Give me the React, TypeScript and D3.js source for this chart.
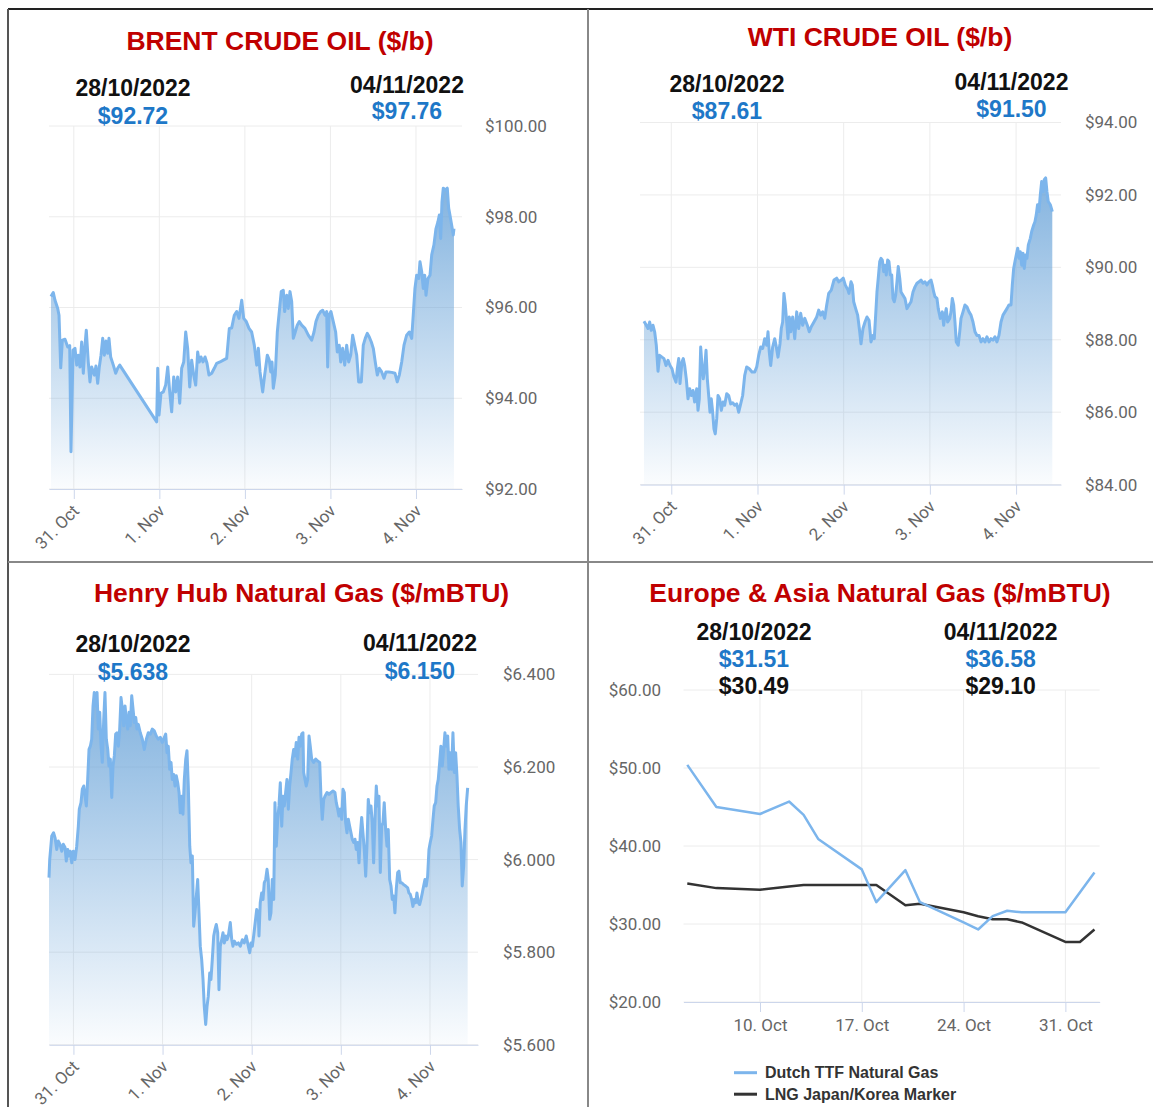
import React, { useEffect, useRef } from 'react';
import * as d3 from 'd3';

type Point = [number, number];

// intraday series: [days from 31 Oct 2022 00:00 UTC, price]
const brentSeries: Point[] = [
  [-0.267, 96.24], [-0.240, 96.33], [-0.220, 96.16], [-0.188, 95.98], [-0.173, 95.83], [-0.153, 94.67], [-0.134, 95.28],
  [-0.103, 95.30], [-0.071, 95.13], [-0.048, 95.16], [-0.033, 92.82], [-0.009, 95.06], [0.014, 95.10], [0.034, 94.73],
  [0.053, 94.95], [0.072, 94.69], [0.092, 95.24], [0.111, 94.55], [0.131, 95.17], [0.146, 95.50], [0.169, 94.80],
  [0.189, 94.36], [0.209, 94.69], [0.240, 94.51], [0.259, 94.71], [0.279, 94.33], [0.298, 94.69], [0.318, 94.95],
  [0.338, 95.32], [0.357, 94.95], [0.376, 95.26], [0.396, 94.99], [0.411, 95.32], [0.431, 94.91], [0.462, 94.73],
  [0.490, 94.55], [0.513, 94.66], [0.537, 94.73], [0.969, 93.48], [0.981, 94.66], [0.996, 93.63], [1.019, 94.11],
  [1.046, 94.14], [1.074, 94.29], [1.098, 94.69], [1.121, 94.14], [1.144, 93.70], [1.168, 94.47], [1.191, 94.14],
  [1.214, 94.47], [1.238, 93.89], [1.261, 94.66], [1.285, 94.80], [1.308, 95.46], [1.331, 95.10], [1.355, 94.25],
  [1.378, 94.84], [1.402, 94.51], [1.425, 94.29], [1.448, 95.02], [1.467, 94.80], [1.487, 94.91], [1.510, 94.80],
  [1.534, 94.91], [1.557, 94.77], [1.580, 94.51], [1.612, 94.55], [1.642, 94.66], [1.670, 94.77], [1.709, 94.80],
  [1.748, 94.84], [1.787, 94.88], [1.818, 95.54], [1.846, 95.55], [1.876, 95.83], [1.904, 95.91], [1.931, 95.76],
  [1.963, 96.16], [1.986, 95.76], [2.016, 95.69], [2.048, 95.54], [2.079, 95.46], [2.110, 95.17], [2.138, 94.73],
  [2.157, 95.10], [2.177, 94.58], [2.208, 94.14], [2.231, 94.51], [2.262, 94.95], [2.285, 94.84], [2.302, 94.58],
  [2.317, 94.80], [2.332, 94.22], [2.355, 94.51], [2.379, 95.46], [2.402, 95.91], [2.425, 96.35], [2.449, 96.38],
  [2.465, 95.91], [2.489, 96.27], [2.507, 95.98], [2.527, 96.35], [2.547, 96.13], [2.566, 95.32], [2.589, 95.46],
  [2.612, 95.61], [2.636, 95.69], [2.664, 95.61], [2.702, 95.54], [2.741, 95.39], [2.781, 95.28], [2.808, 95.46],
  [2.831, 95.69], [2.858, 95.83], [2.886, 95.91], [2.909, 95.94], [2.936, 95.83], [2.956, 95.91], [2.968, 94.69],
  [2.983, 95.83], [3.006, 95.91], [3.033, 95.69], [3.061, 95.46], [3.080, 95.02], [3.103, 95.17], [3.120, 94.80],
  [3.143, 95.10], [3.167, 94.73], [3.190, 95.17], [3.213, 94.80], [3.237, 94.95], [3.260, 95.39], [3.283, 95.17],
  [3.307, 94.95], [3.330, 94.36], [3.361, 94.36], [3.384, 95.17], [3.407, 95.32], [3.431, 95.43], [3.454, 95.35],
  [3.478, 95.24], [3.501, 95.10], [3.524, 94.80], [3.548, 94.51], [3.571, 94.66], [3.599, 94.58], [3.626, 94.44],
  [3.649, 94.58], [3.681, 94.58], [3.716, 94.57], [3.755, 94.55], [3.781, 94.36], [3.805, 94.51], [3.833, 94.80],
  [3.860, 95.17], [3.891, 95.39], [3.922, 95.46], [3.950, 95.32], [3.968, 95.83], [3.988, 96.42], [4.008, 96.71],
  [4.032, 96.64], [4.047, 97.01], [4.067, 96.79], [4.085, 96.42], [4.102, 96.71], [4.117, 96.27], [4.140, 96.64],
  [4.164, 96.71], [4.184, 97.16], [4.210, 97.38], [4.234, 97.74], [4.257, 97.89], [4.273, 98.04], [4.289, 97.52],
  [4.304, 98.33], [4.319, 98.63], [4.343, 98.59], [4.366, 98.63], [4.382, 98.19], [4.397, 98.04], [4.417, 97.82],
  [4.436, 97.60], [4.444, 97.74],
];

const wtiSeries: Point[] = [
  [-0.317, 88.51], [-0.290, 88.40], [-0.270, 88.31], [-0.251, 88.49], [-0.232, 88.26], [-0.212, 88.40], [-0.193, 88.22],
  [-0.174, 87.85], [-0.154, 87.13], [-0.135, 87.57], [-0.108, 87.52], [-0.085, 87.48], [-0.061, 87.29], [-0.038, 87.43],
  [-0.015, 87.29], [0.008, 87.20], [0.031, 86.97], [0.055, 86.83], [0.070, 87.20], [0.086, 87.48], [0.101, 86.79],
  [0.124, 87.39], [0.139, 87.48], [0.155, 87.29], [0.174, 86.92], [0.194, 86.37], [0.213, 86.65], [0.232, 86.46],
  [0.252, 86.60], [0.271, 86.28], [0.295, 86.65], [0.310, 86.05], [0.325, 86.37], [0.341, 87.80], [0.356, 87.29],
  [0.371, 86.92], [0.387, 87.20], [0.403, 87.71], [0.418, 86.92], [0.434, 86.46], [0.449, 86.00], [0.464, 86.37],
  [0.480, 86.00], [0.495, 85.54], [0.510, 85.40], [0.527, 85.82], [0.542, 86.46], [0.561, 86.37], [0.580, 86.05],
  [0.600, 86.28], [0.619, 86.19], [0.643, 86.51], [0.666, 86.46], [0.689, 86.23], [0.712, 86.26], [0.736, 86.19],
  [0.759, 86.23], [0.782, 86.00], [0.805, 86.23], [0.828, 86.46], [0.852, 87.02], [0.875, 87.25], [0.905, 87.20],
  [0.936, 87.11], [0.968, 87.11], [0.991, 87.25], [1.014, 87.57], [1.037, 87.80], [1.060, 87.76], [1.084, 88.03],
  [1.107, 87.85], [1.122, 88.22], [1.137, 87.66], [1.153, 87.29], [1.176, 87.80], [1.200, 88.03], [1.215, 87.85],
  [1.238, 87.52], [1.261, 87.89], [1.276, 88.31], [1.292, 88.49], [1.307, 89.28], [1.323, 88.96], [1.339, 88.49],
  [1.354, 88.03], [1.369, 88.63], [1.385, 88.22], [1.408, 88.63], [1.432, 88.03], [1.455, 88.77], [1.478, 88.31],
  [1.501, 88.73], [1.524, 88.40], [1.548, 88.59], [1.578, 88.40], [1.601, 88.22], [1.624, 88.36], [1.655, 88.49],
  [1.687, 88.63], [1.710, 88.82], [1.733, 88.68], [1.756, 88.77], [1.780, 88.59], [1.803, 88.96], [1.826, 89.28],
  [1.856, 89.37], [1.887, 89.65], [1.919, 89.70], [1.942, 89.60], [1.972, 89.65], [1.995, 89.70], [2.019, 89.51],
  [2.050, 89.37], [2.061, 89.28], [2.085, 89.60], [2.100, 89.51], [2.116, 89.05], [2.139, 88.86], [2.162, 88.68],
  [2.186, 88.22], [2.201, 87.89], [2.224, 88.31], [2.247, 88.49], [2.270, 88.63], [2.294, 88.54], [2.317, 87.94],
  [2.340, 88.12], [2.355, 88.03], [2.371, 88.68], [2.386, 89.32], [2.401, 89.70], [2.418, 90.16], [2.433, 90.25],
  [2.448, 90.20], [2.464, 89.88], [2.479, 90.06], [2.494, 89.79], [2.510, 90.20], [2.525, 90.16], [2.541, 89.79],
  [2.557, 89.79], [2.572, 89.14], [2.587, 89.05], [2.603, 89.23], [2.618, 89.60], [2.633, 90.02], [2.650, 89.70],
  [2.665, 89.32], [2.688, 89.23], [2.711, 89.14], [2.734, 88.86], [2.758, 88.96], [2.781, 89.05], [2.804, 89.32],
  [2.827, 89.46], [2.850, 89.56], [2.874, 89.60], [2.897, 89.65], [2.920, 89.56], [2.943, 89.60], [2.966, 89.51],
  [2.989, 89.60], [3.013, 89.65], [3.028, 89.51], [3.044, 89.32], [3.059, 89.19], [3.082, 89.14], [3.097, 88.86],
  [3.121, 88.59], [3.144, 88.77], [3.160, 88.40], [3.175, 88.68], [3.190, 88.86], [3.206, 88.49], [3.230, 88.59],
  [3.245, 88.77], [3.260, 89.14], [3.276, 88.96], [3.291, 88.49], [3.306, 87.94], [3.329, 87.85], [3.346, 88.22],
  [3.361, 88.59], [3.384, 88.77], [3.407, 88.96], [3.430, 88.91], [3.454, 88.77], [3.477, 88.68], [3.500, 88.49],
  [3.523, 88.22], [3.546, 88.12], [3.570, 88.12], [3.593, 87.94], [3.616, 88.03], [3.639, 87.94], [3.662, 88.08],
  [3.686, 87.94], [3.709, 88.03], [3.732, 87.99], [3.755, 88.08], [3.778, 87.94], [3.801, 88.12], [3.825, 88.49],
  [3.848, 88.68], [3.871, 88.77], [3.894, 88.86], [3.917, 88.96], [3.941, 88.96], [3.956, 89.51], [3.972, 89.97],
  [3.987, 90.16], [4.002, 90.34], [4.019, 90.53], [4.034, 90.25], [4.049, 90.43], [4.065, 90.06], [4.080, 90.39],
  [4.095, 89.97], [4.111, 90.34], [4.126, 90.25], [4.142, 90.62], [4.165, 90.80], [4.181, 90.99], [4.204, 91.17],
  [4.219, 91.26], [4.234, 91.45], [4.249, 91.73], [4.265, 91.54], [4.281, 92.00], [4.297, 92.37], [4.312, 92.09],
  [4.327, 92.42], [4.343, 92.47], [4.358, 92.09], [4.373, 91.82], [4.397, 91.73], [4.420, 91.54],
];

const henryHubSeries: Point[] = [
  [-0.274, 5.961], [-0.266, 6.000], [-0.243, 6.051], [-0.223, 6.058], [-0.206, 6.047], [-0.187, 6.022], [-0.169, 6.040],
  [-0.150, 6.033], [-0.131, 6.018], [-0.113, 6.033], [-0.094, 6.026], [-0.080, 5.997], [-0.064, 6.022], [-0.049, 6.008],
  [-0.035, 6.018], [-0.019, 5.993], [-0.001, 6.018], [0.018, 6.000], [0.037, 6.029], [0.055, 6.072], [0.066, 6.109],
  [0.085, 6.123], [0.100, 6.152], [0.116, 6.159], [0.130, 6.137], [0.145, 6.116], [0.160, 6.173], [0.175, 6.238],
  [0.190, 6.245], [0.205, 6.260], [0.220, 6.332], [0.234, 6.361], [0.250, 6.332], [0.265, 6.361], [0.279, 6.282],
  [0.295, 6.318], [0.310, 6.245], [0.324, 6.210], [0.340, 6.303], [0.354, 6.361], [0.369, 6.260], [0.385, 6.238],
  [0.399, 6.202], [0.414, 6.217], [0.430, 6.134], [0.444, 6.202], [0.459, 6.224], [0.474, 6.271], [0.489, 6.274],
  [0.504, 6.245], [0.519, 6.282], [0.534, 6.350], [0.549, 6.325], [0.564, 6.289], [0.579, 6.332], [0.593, 6.303],
  [0.609, 6.282], [0.624, 6.318], [0.638, 6.289], [0.654, 6.354], [0.669, 6.325], [0.683, 6.296], [0.699, 6.307],
  [0.713, 6.282], [0.728, 6.292], [0.750, 6.274], [0.773, 6.260], [0.795, 6.238], [0.818, 6.260], [0.840, 6.274],
  [0.863, 6.271], [0.885, 6.282], [0.907, 6.278], [0.930, 6.267], [0.952, 6.260], [0.975, 6.264], [0.997, 6.253],
  [1.020, 6.264], [1.035, 6.271], [1.050, 6.231], [1.064, 6.245], [1.080, 6.195], [1.095, 6.210], [1.109, 6.173],
  [1.125, 6.184], [1.140, 6.159], [1.154, 6.181], [1.170, 6.166], [1.185, 6.145], [1.199, 6.101], [1.215, 6.137],
  [1.229, 6.098], [1.244, 6.173], [1.260, 6.217], [1.274, 6.235], [1.289, 6.159], [1.305, 6.029], [1.319, 5.993],
  [1.334, 6.008], [1.349, 5.856], [1.364, 5.885], [1.379, 5.921], [1.394, 5.957], [1.409, 5.885], [1.423, 5.813],
  [1.439, 5.784], [1.454, 5.741], [1.468, 5.683], [1.484, 5.644], [1.499, 5.683], [1.513, 5.705], [1.529, 5.755],
  [1.543, 5.741], [1.558, 5.784], [1.574, 5.835], [1.588, 5.849], [1.603, 5.860], [1.619, 5.842], [1.633, 5.719],
  [1.648, 5.813], [1.663, 5.827], [1.678, 5.842], [1.693, 5.820], [1.708, 5.835], [1.723, 5.827], [1.738, 5.835],
  [1.760, 5.864], [1.776, 5.827], [1.790, 5.813], [1.805, 5.824], [1.827, 5.817], [1.850, 5.820], [1.872, 5.813],
  [1.895, 5.827], [1.917, 5.820], [1.939, 5.835], [1.962, 5.813], [1.978, 5.799], [1.992, 5.820], [2.007, 5.813],
  [2.022, 5.835], [2.056, 5.892], [2.074, 5.885], [2.082, 5.835], [2.096, 5.907], [2.112, 5.928], [2.127, 5.914],
  [2.141, 5.950], [2.157, 5.957], [2.172, 5.979], [2.186, 5.957], [2.202, 5.871], [2.216, 5.885], [2.231, 5.957],
  [2.247, 5.914], [2.261, 6.123], [2.276, 6.029], [2.292, 6.087], [2.306, 6.116], [2.321, 6.166], [2.337, 6.072],
  [2.351, 6.137], [2.366, 6.116], [2.381, 6.145], [2.396, 6.173], [2.411, 6.109], [2.426, 6.159], [2.441, 6.188],
  [2.455, 6.217], [2.471, 6.238], [2.486, 6.224], [2.500, 6.253], [2.516, 6.217], [2.531, 6.264], [2.545, 6.245],
  [2.561, 6.271], [2.575, 6.274], [2.583, 6.188], [2.598, 6.173], [2.612, 6.159], [2.628, 6.173], [2.643, 6.267],
  [2.657, 6.245], [2.673, 6.217], [2.695, 6.210], [2.718, 6.217], [2.740, 6.213], [2.763, 6.210], [2.777, 6.137],
  [2.792, 6.087], [2.808, 6.130], [2.822, 6.137], [2.845, 6.145], [2.867, 6.141], [2.890, 6.145], [2.912, 6.148],
  [2.934, 6.145], [2.949, 6.123], [2.965, 6.109], [2.979, 6.094], [2.994, 6.109], [3.010, 6.087], [3.024, 6.152],
  [3.039, 6.145], [3.054, 6.080], [3.069, 6.058], [3.084, 6.087], [3.099, 6.072], [3.114, 6.058], [3.128, 6.044],
  [3.144, 6.037], [3.159, 6.044], [3.173, 6.022], [3.189, 6.037], [3.204, 5.993], [3.218, 6.051], [3.234, 6.091],
  [3.248, 6.058], [3.263, 6.022], [3.279, 5.964], [3.293, 6.029], [3.308, 6.130], [3.324, 6.101], [3.338, 6.116],
  [3.353, 6.080], [3.368, 5.993], [3.383, 6.087], [3.398, 6.159], [3.413, 6.116], [3.428, 6.137], [3.443, 5.972],
  [3.458, 6.072], [3.473, 6.080], [3.487, 6.123], [3.503, 6.065], [3.518, 6.029], [3.532, 6.065], [3.548, 5.957],
  [3.563, 5.943], [3.577, 5.914], [3.593, 5.921], [3.607, 5.885], [3.622, 5.936], [3.638, 5.972], [3.652, 5.975],
  [3.667, 5.950], [3.683, 5.950], [3.705, 5.946], [3.727, 5.943], [3.750, 5.939], [3.764, 5.928], [3.779, 5.925],
  [3.795, 5.914], [3.809, 5.899], [3.824, 5.914], [3.840, 5.907], [3.854, 5.928], [3.869, 5.907], [3.884, 5.903],
  [3.899, 5.914], [3.914, 5.928], [3.929, 5.943], [3.944, 5.957], [3.958, 5.943], [3.974, 5.964], [3.989, 6.022],
  [4.003, 6.037], [4.019, 6.051], [4.034, 6.087], [4.048, 6.116], [4.064, 6.123], [4.079, 6.159], [4.093, 6.173],
  [4.109, 6.210], [4.123, 6.245], [4.138, 6.202], [4.154, 6.238], [4.168, 6.274], [4.183, 6.245], [4.199, 6.267],
  [4.213, 6.195], [4.228, 6.231], [4.243, 6.195], [4.258, 6.274], [4.273, 6.188], [4.288, 6.231], [4.303, 6.181],
  [4.317, 6.116], [4.333, 6.065], [4.348, 6.037], [4.362, 5.943], [4.378, 5.986], [4.393, 6.065], [4.407, 6.116],
  [4.423, 6.155],
];

// daily europe / asia gas
const gasDates = [
  '2022-10-05', '2022-10-07', '2022-10-10', '2022-10-12', '2022-10-13', '2022-10-14', '2022-10-17', '2022-10-18',
  '2022-10-20', '2022-10-21', '2022-10-24', '2022-10-25', '2022-10-26', '2022-10-27', '2022-10-28', '2022-10-31',
  '2022-11-01', '2022-11-02',
];
const ttfValues = [50.4, 45.0, 44.1, 45.7, 44.0, 40.9, 37.0, 32.8, 36.9, 32.8, 30.2, 29.3, 31.0, 31.7, 31.5, 31.5, null, 36.6];
const lngValues = [35.2, 34.6, 34.4, 34.8, 35.0, 35.0, 35.0, 35.0, 32.4, 32.6, 31.5, 31.0, 30.6, 30.6, 30.2, 27.7, 27.7, 29.3];

const intradayTickDays = [0, 1, 2, 3, 4];
const gasTickDates = ['2022-10-10', '2022-10-17', '2022-10-24', '2022-10-31'];

const brentYTicks = [92, 94, 96, 98, 100];
const wtiYTicks = [84, 86, 88, 90, 92, 94];
const henryYTicks = [5.6, 5.8, 6.0, 6.2, 6.4];
const gasYTicks = [20, 30, 40, 50, 60];

const headerDates = ['28/10/2022', '04/11/2022'];
const brentHeader = ['$92.72', '$97.76'];
const wtiHeader = ['$87.61', '$91.50'];
const henryHeader = ['$5.638', '$6.150'];
const ttfHeader = ['$31.51', '$36.58'];
const lngHeader = ['$30.49', '$29.10'];

const legendLabels = ['Dutch TTF Natural Gas', 'LNG Japan/Korea Marker'];

const DAY = 86400000;
const OCT31 = Date.UTC(2022, 9, 31);
const dayToDate = (d: number) => new Date(OCT31 + d * DAY);
const isoToDate = (s: string) => new Date(s + 'T00:00:00Z');

const TITLE_FONT = "'Liberation Sans', Arial, sans-serif";
const LABEL_FONT = "Roboto, 'Liberation Sans', sans-serif";
const RED = '#c00000';
const BLUE = '#1e78c8';
const LINE_BLUE = '#7cb5ec';
const GRID = '#ececec';
const AXIS = '#ccd6eb';
const LABEL = '#666666';

interface IntradayPanel {
  id: string;
  title: string;
  titleX: number;
  titleY: number;
  data: Point[];
  values: string[];
  left: number;
  right: number;
  top: number;
  bottom: number;
  xDomain: [number, number];
  yDomain: [number, number];
  yTicks: number[];
  yFormat: (v: number) => string;
  labelX: number;
  headerX: [number, number];
  dateY: [number, number];
  valueY: [number, number];
}

const panels: IntradayPanel[] = [
  {
    id: 'brent', title: 'BRENT CRUDE OIL ($/b)', titleX: 280, titleY: 41, data: brentSeries, values: brentHeader,
    left: 49, right: 462, top: 126, bottom: 489, xDomain: [-0.29, 4.538], yDomain: [92, 100], yTicks: brentYTicks,
    yFormat: v => `$${v.toFixed(2)}`, labelX: 485, headerX: [133, 407], dateY: [87.5, 84.5], valueY: [116, 111],
  },
  {
    id: 'wti', title: 'WTI CRUDE OIL ($/b)', titleX: 880, titleY: 37, data: wtiSeries, values: wtiHeader,
    left: 640, right: 1061, top: 122.5, bottom: 484.6, xDomain: [-0.363, 4.521], yDomain: [84, 94], yTicks: wtiYTicks,
    yFormat: v => `$${v.toFixed(2)}`, labelX: 1085, headerX: [727, 1011.5], dateY: [84, 81.5], valueY: [111, 109],
  },
  {
    id: 'henry', title: 'Henry Hub Natural Gas ($/mBTU)', titleX: 301.5, titleY: 593, data: henryHubSeries, values: henryHeader,
    left: 49, right: 478, top: 674.4, bottom: 1044.8, xDomain: [-0.274, 4.539], yDomain: [5.6, 6.4], yTicks: henryYTicks,
    yFormat: v => `$${v.toFixed(3)}`, labelX: 503, headerX: [133, 420], dateY: [643.7, 643], valueY: [671.6, 671],
  },
];

function addText(g: any, x: number, y: number, text: string, size: number, color: string, opts: any = {}) {
  return g.append('text')
    .attr('x', x)
    .attr('y', y)
    .attr('dy', '0.35em')
    .attr('text-anchor', opts.anchor || 'middle')
    .attr('font-family', opts.font || TITLE_FONT)
    .attr('font-weight', opts.weight || 'bold')
    .attr('font-size', `${size}px`)
    .attr('fill', color)
    .text(text);
}

function drawIntraday(svg: any, defs: any, p: IntradayPanel) {
  const g = svg.append('g').attr('class', `panel-${p.id}`);

  const xScale = d3.scaleTime()
    .domain([dayToDate(p.xDomain[0]), dayToDate(p.xDomain[1])])
    .range([p.left, p.right]);
  const yScale = d3.scaleLinear().domain(p.yDomain).range([p.bottom, p.top]);
  const tickDates = intradayTickDays.map(dayToDate);

  // Grid
  g.selectAll('.hgrid').data(p.yTicks).enter().append('line')
    .attr('x1', p.left).attr('x2', p.right)
    .attr('y1', (d: number) => yScale(d)).attr('y2', (d: number) => yScale(d))
    .attr('stroke', GRID).attr('stroke-width', 1);
  g.selectAll('.vgrid').data(tickDates).enter().append('line')
    .attr('x1', (d: Date) => xScale(d)).attr('x2', (d: Date) => xScale(d))
    .attr('y1', p.top).attr('y2', p.bottom)
    .attr('stroke', GRID).attr('stroke-width', 1);

  // Area gradient
  const grad = defs.append('linearGradient')
    .attr('id', `grad-${p.id}`)
    .attr('x1', 0).attr('y1', 0).attr('x2', 0).attr('y2', 1);
  grad.append('stop').attr('offset', '0%').attr('stop-color', 'rgb(100,160,215)').attr('stop-opacity', 0.8);
  grad.append('stop').attr('offset', '100%').attr('stop-color', 'rgb(100,160,215)').attr('stop-opacity', 0.03);

  const area = d3.area<Point>()
    .x(d => xScale(dayToDate(d[0])))
    .y0(p.bottom)
    .y1(d => yScale(d[1]));
  const line = d3.line<Point>()
    .x(d => xScale(dayToDate(d[0])))
    .y(d => yScale(d[1]));

  g.append('path').datum(p.data).attr('d', area).attr('fill', `url(#grad-${p.id})`);
  g.append('path').datum(p.data).attr('d', line)
    .attr('fill', 'none').attr('stroke', LINE_BLUE).attr('stroke-width', 3)
    .attr('stroke-linejoin', 'round');

  // X axis
  const xAxis = d3.axisBottom(xScale)
    .tickValues(tickDates)
    .tickFormat(d3.utcFormat('%-d. %b') as any)
    .tickSize(10)
    .tickSizeOuter(0);
  const ax = g.append('g').attr('transform', `translate(0,${p.bottom})`).call(xAxis);
  ax.select('.domain').attr('stroke', AXIS);
  ax.selectAll('.tick line').attr('stroke', AXIS);
  ax.selectAll('.tick text')
    .attr('x', 0).attr('y', 0).attr('dy', 0)
    .attr('transform', 'translate(6,23) rotate(-45)')
    .attr('text-anchor', 'end')
    .attr('font-family', LABEL_FONT)
    .attr('font-size', '17px')
    .attr('fill', LABEL);

  // Y labels
  g.selectAll('.ylabel').data(p.yTicks).enter().append('text')
    .attr('x', p.labelX).attr('y', (d: number) => yScale(d))
    .attr('dy', '0.35em')
    .attr('font-family', LABEL_FONT).attr('font-size', '17px').attr('fill', LABEL)
    .text((d: number) => p.yFormat(d));

  // Title & header
  addText(g, p.titleX, p.titleY, p.title, 26.5, RED);
  headerDates.forEach((txt, i) => {
    addText(g, p.headerX[i], p.dateY[i], txt, 23, '#111');
    addText(g, p.headerX[i], p.valueY[i], p.values[i], 23, BLUE);
  });
}

function drawGas(svg: any) {
  const g = svg.append('g').attr('class', 'panel-gas');
  const left = 683.5, right = 1099.7, top = 690, bottom = 1002;
  const oct10 = Date.UTC(2022, 9, 10);

  const xScale = d3.scaleTime()
    .domain([new Date(oct10 - 5.26 * DAY), new Date(oct10 + 23.36 * DAY)])
    .range([left, right]);
  const yScale = d3.scaleLinear().domain([20, 60]).range([bottom, top]);
  const tickDates = gasTickDates.map(isoToDate);

  g.selectAll('.hgrid').data(gasYTicks).enter().append('line')
    .attr('x1', left).attr('x2', right)
    .attr('y1', (d: number) => yScale(d)).attr('y2', (d: number) => yScale(d))
    .attr('stroke', GRID);
  g.selectAll('.vgrid').data(tickDates).enter().append('line')
    .attr('x1', (d: Date) => xScale(d)).attr('x2', (d: Date) => xScale(d))
    .attr('y1', top).attr('y2', bottom)
    .attr('stroke', GRID);

  const rows = gasDates.map((s, i) => ({ date: isoToDate(s), ttf: ttfValues[i], lng: lngValues[i] }));

  const ttfLine = d3.line<any>()
    .x(d => xScale(d.date)).y(d => yScale(d.ttf));
  const lngLine = d3.line<any>()
    .x(d => xScale(d.date)).y(d => yScale(d.lng));

  g.append('path').datum(rows.filter(r => r.lng != null)).attr('d', lngLine)
    .attr('fill', 'none').attr('stroke', '#333333').attr('stroke-width', 2.5).attr('stroke-linejoin', 'round');
  g.append('path').datum(rows.filter(r => r.ttf != null)).attr('d', ttfLine)
    .attr('fill', 'none').attr('stroke', LINE_BLUE).attr('stroke-width', 2.5).attr('stroke-linejoin', 'round');

  const xAxis = d3.axisBottom(xScale)
    .tickValues(tickDates)
    .tickFormat(d3.utcFormat('%-d. %b') as any)
    .tickSize(10)
    .tickPadding(7)
    .tickSizeOuter(0);
  const ax = g.append('g').attr('transform', `translate(0,${bottom})`).call(xAxis);
  ax.select('.domain').attr('stroke', AXIS);
  ax.selectAll('.tick line').attr('stroke', AXIS);
  ax.selectAll('.tick text')
    .attr('font-family', LABEL_FONT).attr('font-size', '17px').attr('fill', LABEL);

  g.selectAll('.ylabel').data(gasYTicks).enter().append('text')
    .attr('x', 661).attr('y', (d: number) => yScale(d))
    .attr('dy', '0.35em').attr('text-anchor', 'end')
    .attr('font-family', LABEL_FONT).attr('font-size', '17px').attr('fill', LABEL)
    .text((d: number) => `$${d.toFixed(2)}`);

  addText(g, 880, 593, 'Europe & Asia Natural Gas ($/mBTU)', 26.5, RED);
  const hx = [754, 1000.6];
  headerDates.forEach((txt, i) => {
    addText(g, hx[i], 631.5, txt, 23, '#111');
    addText(g, hx[i], 659.4, ttfHeader[i], 23, BLUE);
    addText(g, hx[i], 686.3, lngHeader[i], 23, '#111');
  });

  // Legend
  const legendColors = [LINE_BLUE, '#333333'];
  legendLabels.forEach((label, i) => {
    const ly = 1072.7 + i * 21.5;
    g.append('line').attr('x1', 734).attr('x2', 757).attr('y1', ly).attr('y2', ly)
      .attr('stroke', legendColors[i]).attr('stroke-width', 3);
    addText(g, 765, ly, label, 16, '#333333', { anchor: 'start' });
  });
}

export default function App() {
  const svgRef = useRef<SVGSVGElement>(null);

  useEffect(() => {
    if (!svgRef.current) return;
    const svg = d3.select(svgRef.current);
    svg.selectAll('*').remove();
    const defs = svg.append('defs');

    svg.append('rect').attr('width', 1153).attr('height', 1107).attr('fill', '#ffffff');

    panels.forEach(p => drawIntraday(svg, defs, p));
    drawGas(svg);

    // Frame
    const frame = svg.append('g');
    frame.append('line').attr('x1', 8).attr('x2', 1153).attr('y1', 9).attr('y2', 9)
      .attr('stroke', '#222').attr('stroke-width', 2);
    frame.append('line').attr('x1', 8).attr('x2', 8).attr('y1', 9).attr('y2', 1107)
      .attr('stroke', '#555').attr('stroke-width', 2);
    frame.append('line').attr('x1', 588).attr('x2', 588).attr('y1', 9).attr('y2', 1107)
      .attr('stroke', '#888').attr('stroke-width', 2);
    frame.append('line').attr('x1', 8).attr('x2', 1153).attr('y1', 562).attr('y2', 562)
      .attr('stroke', '#888').attr('stroke-width', 2);
  }, []);

  return (
    <svg
      ref={svgRef}
      width={1153}
      height={1107}
      style={{ position: 'absolute', left: 0, top: 0, display: 'block' }}
    />
  );
}
